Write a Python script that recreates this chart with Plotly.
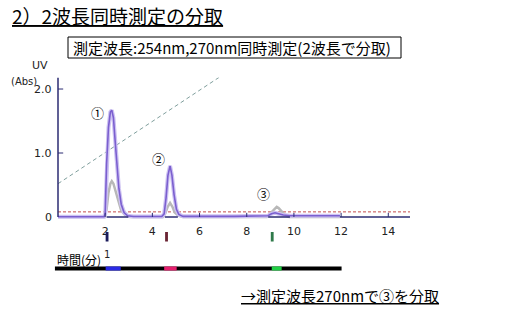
import plotly.graph_objects as go

# ---- data ----
t254 = [0, 1.95, 2.0, 2.06, 2.14, 2.22, 2.28, 2.35, 2.42, 2.49, 2.58, 2.68, 2.8, 2.95, 3.2,
        4.4, 4.5, 4.58, 4.66, 4.75, 4.83, 4.92, 5.02, 5.12, 5.3,
        7.5, 8.9, 9.05, 9.2, 9.35, 9.55, 9.83, 11.95]
a254 = [0.005, 0.005, 0.05, 0.83, 1.4, 1.64, 1.67, 1.55, 1.2, 0.83, 0.45, 0.2, 0.07, 0.02, 0.008,
        0.008, 0.05, 0.3, 0.65, 0.8, 0.65, 0.35, 0.12, 0.04, 0.01,
        0.01, 0.02, 0.05, 0.065, 0.05, 0.03, 0.02, 0.02]

t270 = [0, 1.98, 2.06, 2.14, 2.22, 2.28, 2.35, 2.45, 2.55, 2.68, 2.85, 3.05,
        4.45, 4.55, 4.65, 4.75, 4.85, 4.95, 5.1, 5.3,
        8.85, 8.98, 9.1, 9.2, 9.27, 9.35, 9.48, 9.62, 9.8, 11.95]
a270 = [0.0, 0.0, 0.12, 0.38, 0.52, 0.56, 0.52, 0.4, 0.25, 0.1, 0.03, 0.0,
        0.0, 0.06, 0.16, 0.22, 0.16, 0.07, 0.02, 0.0,
        0.0, 0.05, 0.11, 0.15, 0.16, 0.14, 0.08, 0.03, 0.0, 0.0]

grad_t = [0, 6.86]
grad_v = [0.52, 2.19]
thresh_v = 0.08

x_ticks = [2, 4, 6, 8, 10, 12, 14]
y_ticks = [0, 1, 2]
y_tick_text = ["0", "1.0", "2.0"]

seg_start = [2.06, 4.53, 8.91]
seg_end = [2.98, 5.08, 9.83]

peak_labels = ["①", "②", "③"]
peak_lab_t = [1.69, 4.28, 8.73]
peak_lab_v = [1.64, 0.91, 0.36]

frac_t = [2.08, 4.6, 9.08]
frac_colors = ["#1c1c5c", "#6a2434", "#2f7a4a"]

bar_start, bar_end = -0.13, 12.02
coll_start = [2.02, 4.5, 9.06]
coll_end = [2.66, 5.03, 9.48]
coll_colors = ["#2a2ae6", "#e5206e", "#22d046"]

W, H = 509, 314
NAVY = "#2b2b72"
FONT = "Noto Sans CJK JP"


def py(p):
    return (H - p) / H


fig = go.Figure()

# gradient line
fig.add_trace(go.Scatter(x=grad_t, y=grad_v, mode="lines",
                         line=dict(color="#7f9e9c", width=1, dash="4px,3px"), hoverinfo="skip"))
# threshold line
fig.add_trace(go.Scatter(x=[0, 14.92], y=[thresh_v, thresh_v], mode="lines",
                         line=dict(color="#c44a4a", width=1, dash="3px,2px"), hoverinfo="skip"))
# 270nm trace (gray)
fig.add_trace(go.Scatter(x=t270, y=a270, mode="lines",
                         line=dict(color="#b8b8b8", width=2.5), hoverinfo="skip"))
# 254nm trace (purple) with halo
fig.add_trace(go.Scatter(x=t254, y=a254, mode="lines",
                         line=dict(color="#cdc2f2", width=4), hoverinfo="skip"))
fig.add_trace(go.Scatter(x=t254, y=a254, mode="lines",
                         line=dict(color="#7b5fcf", width=1.6), hoverinfo="skip"))

shapes = []
for s, e in zip(seg_start, seg_end):
    shapes.append(dict(type="line", xref="x", yref="y", x0=s, x1=e, y0=0, y1=0,
                       line=dict(color=NAVY, width=1.5)))
shapes.append(dict(type="line", xref="x", yref="y", x0=11.95, x1=14.92, y0=0, y1=0,
                   line=dict(color=NAVY, width=1.5)))
for t in x_ticks:
    shapes.append(dict(type="line", xref="x", yref="y", x0=t, x1=t, y0=0, y1=0.065,
                       line=dict(color=NAVY, width=1)))
shapes.append(dict(type="line", xref="x", yref="y", x0=0, x1=0, y0=0, y1=2.18,
                   line=dict(color=NAVY, width=1.5)))
for v in y_ticks[1:]:
    shapes.append(dict(type="line", xref="x", yref="y", x0=0, x1=0.22, y0=v, y1=v,
                       line=dict(color=NAVY, width=1)))
for t, c in zip(frac_t, frac_colors):
    shapes.append(dict(type="rect", xref="x", yref="paper", x0=t - 0.06, x1=t + 0.06,
                       y0=py(241.5), y1=py(232), line=dict(width=0), fillcolor=c))
shapes.append(dict(type="rect", xref="x", yref="paper", x0=bar_start, x1=bar_end,
                   y0=py(270.5), y1=py(266.5), line=dict(width=0), fillcolor="#000000"))
for s, e, c in zip(coll_start, coll_end, coll_colors):
    shapes.append(dict(type="rect", xref="x", yref="paper", x0=s, x1=e,
                       y0=py(270.5), y1=py(266.5), line=dict(width=0), fillcolor=c))
shapes.append(dict(type="rect", xref="paper", yref="paper", x0=68 / W, x1=401 / W,
                   y0=py(58), y1=py(37), line=dict(color="#000000", width=1), fillcolor="white",
                   layer="below"))

annotations = []
for lab, t, v in zip(peak_labels, peak_lab_t, peak_lab_v):
    annotations.append(dict(x=t, y=v, xref="x", yref="y", text=lab, showarrow=False,
                            xanchor="center", yanchor="middle",
                            font=dict(size=13, color="#000", family=FONT)))
for v, tx in zip(y_ticks, y_tick_text):
    annotations.append(dict(x=54 / W, y=v, xref="paper", yref="y", text=tx, showarrow=False,
                            xanchor="right", yanchor="middle",
                            font=dict(size=11, color="#222", family="DejaVu Sans")))


def ann(x, y, text, size, family=FONT, xanchor="center", color="#000"):
    return dict(x=x / W, y=py(y), xref="paper", yref="paper", text=text, showarrow=False,
                xanchor=xanchor, yanchor="middle", font=dict(size=size, color=color, family=family))


annotations += [
    ann(10, 16, "<u>2）2波長同時測定の分取</u>", 19, xanchor="left"),
    ann(71, 47.5, "測定波長:254nm,270nm同時測定(2波長で分取)", 15, xanchor="left"),
    ann(40, 66, "UV", 11, family="DejaVu Sans", color="#222"),
    ann(24, 81, "(Abs)", 10, family="DejaVu Sans", color="#222"),
    ann(55, 259, "時間(分)", 12, xanchor="left"),
    ann(239, 295, "<u>→測定波長270nmで③を分取</u>", 15, xanchor="left"),
    dict(x=frac_t[0], y=py(255), xref="x", yref="paper", text="1", showarrow=False,
         xanchor="center", yanchor="middle", font=dict(size=10, color="#222", family="DejaVu Sans")),
]

x_px0 = 58 - 0.5 * 23.6
fig.update_layout(
    width=W, height=H, autosize=False,
    margin=dict(l=0, r=0, t=0, b=0),
    paper_bgcolor="white", plot_bgcolor="white",
    showlegend=False,
    xaxis=dict(domain=[x_px0 / W, 410 / W], range=[-0.5, 14.92], showgrid=False, zeroline=False,
               showline=False, tickvals=x_ticks, ticks="", ticklabelstandoff=2,
               tickfont=dict(size=11, color="#222", family="DejaVu Sans")),
    yaxis=dict(domain=[py(220.84), py(77.5)], range=[-0.06, 2.18], showgrid=False, zeroline=False,
               showline=False, showticklabels=False, ticks=""),
    shapes=shapes,
    annotations=annotations,
)

fig.write_html("out.html")
